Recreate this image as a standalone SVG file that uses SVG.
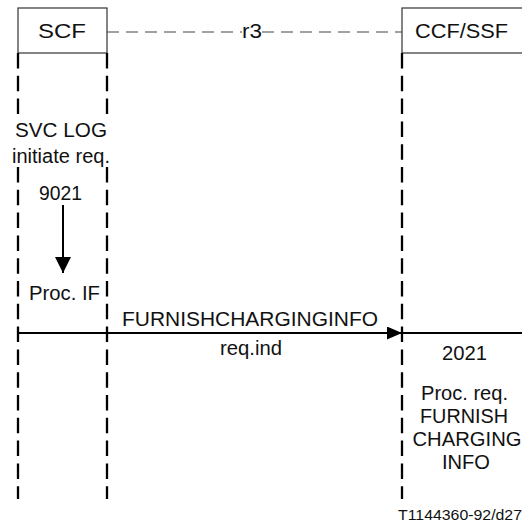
<svg xmlns="http://www.w3.org/2000/svg" width="522" height="525" viewBox="0 0 522 525">
<style>
text{font-family:"Liberation Sans",Arial,sans-serif;font-size:19.5px;fill:#111;text-anchor:middle}
.small{font-size:14.5px}
.box{fill:#fff;stroke:#333;stroke-width:1.2}
.life{stroke:#000;stroke-width:2.3;stroke-dasharray:15.5 7.3;fill:none}
.msg{stroke:#000;stroke-width:2;fill:none}
.iface{stroke:#444;stroke-width:1.1;stroke-dasharray:12 7;fill:none}
</style>
<defs>
<marker id="ah" markerWidth="15" markerHeight="13" refX="15" refY="6.5" orient="auto" markerUnits="userSpaceOnUse">
<polygon points="0,0 15,6.5 0,13" fill="#000"/>
</marker>
<marker id="ahd" markerWidth="16" markerHeight="16" refX="16" refY="8" orient="auto" markerUnits="userSpaceOnUse">
<polygon points="0,0 16,8 0,16" fill="#000"/>
</marker>
</defs>
<g id="SCF">
<rect class="box" x="18" y="8" width="89" height="45"/>
<text x="62" y="38" textLength="48" lengthAdjust="spacingAndGlyphs">SCF</text>
<line class="life" x1="18" y1="53" x2="18" y2="499"/>
<line class="life" x1="107" y1="53" x2="107" y2="499"/>
</g>
<g id="CCF_SSF">
<rect class="box" x="402" y="8" width="130" height="45"/>
<text x="461.5" y="38" textLength="93" lengthAdjust="spacingAndGlyphs">CCF/SSF</text>
<line class="life" x1="402" y1="53" x2="402" y2="499"/>
</g>
<g id="scf_proc">
<rect x="8" y="115" width="108" height="52" fill="#fff"/>
<text x="61" y="137" textLength="92" lengthAdjust="spacingAndGlyphs">SVC LOG</text>
<text x="61" y="162.5" textLength="98" lengthAdjust="spacingAndGlyphs">initiate req.</text>
<text x="60.5" y="200" textLength="43" lengthAdjust="spacingAndGlyphs">9021</text>
<text x="64.5" y="300" textLength="71" lengthAdjust="spacingAndGlyphs">Proc. IF</text>
</g>
<g id="ccf_proc">
<text x="464.5" y="360" textLength="45" lengthAdjust="spacingAndGlyphs">2021</text>
<text x="464.5" y="400" textLength="87" lengthAdjust="spacingAndGlyphs">Proc. req.</text>
<text x="464" y="422.5" textLength="88" lengthAdjust="spacingAndGlyphs">FURNISH</text>
<text x="467" y="445.5" textLength="109" lengthAdjust="spacingAndGlyphs">CHARGING</text>
<text x="466" y="469" textLength="48" lengthAdjust="spacingAndGlyphs">INFO</text>
</g>
<g id="connectors">
<line class="iface" x1="107" y1="32" x2="242" y2="32"/>
<line class="iface" x1="262" y1="32" x2="402" y2="32"/>
<text x="252" y="38" textLength="20" lengthAdjust="spacingAndGlyphs">r3</text>
<line class="msg" x1="63" y1="205" x2="63" y2="273" marker-end="url(#ahd)"/>
<line class="msg" x1="18" y1="333" x2="402" y2="333" marker-end="url(#ah)"/>
<line class="msg" x1="402" y1="333" x2="522" y2="333"/>
<text x="250" y="326" textLength="256" lengthAdjust="spacingAndGlyphs">FURNISHCHARGINGINFO</text>
<text x="251" y="355" textLength="62" lengthAdjust="spacingAndGlyphs">req.ind</text>
</g>
<text class="small" x="460" y="520" textLength="124" lengthAdjust="spacingAndGlyphs">T1144360-92/d27</text>
</svg>
